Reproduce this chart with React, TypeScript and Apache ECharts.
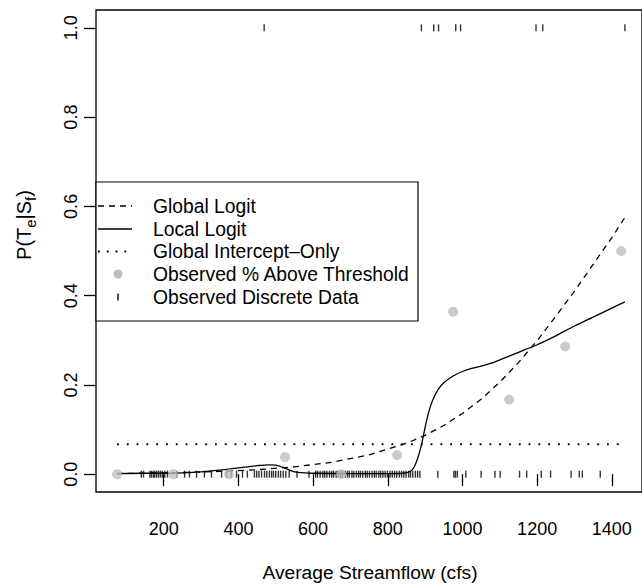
import React, { useEffect, useRef } from "react";
import * as echarts from "echarts";

// Observed share of exceedances per 150 cfs streamflow bin
const binCenters = [75, 225, 375, 525, 675, 825, 975, 1125, 1275, 1425];
const observedPct = [0, 0, 0, 0.038, 0, 0.043, 0.364, 0.167, 0.286, 0.5];

// Discrete observations: flows where the threshold was exceeded (1) or not (0)
const eventFlows = [469, 890, 923, 936, 982, 995, 1197, 1215, 1435];
const nonEventFlows = [
  140, 146, 163, 167, 172, 176, 181, 186, 191, 196, 203, 210, 235, 256, 269, 288,
  309, 328, 355, 368, 381, 395, 411, 424, 443, 449, 455, 462, 470, 476, 483, 489,
  494, 500, 507, 513, 520, 527, 536, 557, 589, 607, 612, 619, 626, 631, 637, 644,
  650, 655, 662, 668, 674, 679, 686, 692, 697, 704, 709, 716, 722, 727, 733, 740,
  745, 751, 758, 764, 769, 776, 781, 787, 793, 799, 806, 812, 818, 824, 831, 837,
  843, 849, 856, 861, 867, 874, 880, 886, 934, 977, 981, 986, 1009, 1050, 1087,
  1101, 1153, 1172, 1211, 1236, 1291, 1313, 1321, 1369,
];

// Global logit fit
const globalFlow = [75, 150, 250, 350, 450, 550, 650, 750, 850, 900, 950, 1000, 1050, 1100, 1150, 1200, 1250, 1300, 1350, 1400, 1435];
const globalP = [0.0015, 0.0022, 0.0037, 0.0061, 0.0099, 0.0163, 0.0266, 0.0431, 0.069, 0.087, 0.109, 0.136, 0.168, 0.206, 0.25, 0.299, 0.354, 0.41, 0.47, 0.53, 0.575];

// Local logit fit
const localFlow = [75, 150, 200, 250, 300, 350, 400, 450, 480, 500, 520, 540, 560, 600, 700, 800, 840, 860, 870, 880, 890, 900, 910, 920, 935, 950, 975, 1000, 1025, 1050, 1075, 1100, 1150, 1200, 1250, 1300, 1350, 1400, 1435];
const localP = [0.001, 0.002, 0.002, 0.003, 0.005, 0.009, 0.014, 0.019, 0.021, 0.02, 0.015, 0.008, 0.004, 0.002, 0.001, 0.001, 0.002, 0.006, 0.015, 0.035, 0.065, 0.105, 0.14, 0.165, 0.19, 0.205, 0.22, 0.23, 0.237, 0.242, 0.248, 0.256, 0.273, 0.29, 0.31, 0.332, 0.352, 0.372, 0.386];

// Intercept-only model
const interceptP = 0.067;
const interceptFlow = [75, 1435];

const xTicks = [200, 400, 600, 800, 1000, 1200, 1400];
const yTicks = [0, 0.2, 0.4, 0.6, 0.8, 1.0];

const legendLabels = [
  "Global Logit",
  "Local Logit",
  "Global Intercept\u2013Only",
  "Observed % Above Threshold",
  "Observed Discrete Data",
];

const FONT = "'Liberation Sans', Arial, Helvetica, sans-serif";
const GREY = "#bebebe";

export default function App() {
  const ref = useRef<HTMLDivElement>(null);

  useEffect(() => {
    if (!ref.current) return;
    const chart = echarts.init(ref.current, null, { renderer: "svg" });

    const lx = 96;
    const ly = 182;
    const rowY = [206, 229, 251.5, 274, 297];
    const symX0 = 98;
    const symX1 = 132;
    const symC = 118;
    const textX = 153;

    const legend: any[] = [
      {
        type: "rect",
        shape: { x: lx, y: ly, width: 322, height: 139 },
        style: { fill: "#fff", stroke: "#000", lineWidth: 1.2 },
        z: 10,
      },
      {
        type: "line",
        shape: { x1: symX0, y1: rowY[0], x2: symX1, y2: rowY[0] },
        style: { stroke: "#000", lineWidth: 1.3, lineDash: [6, 5] },
        z: 11,
      },
      {
        type: "line",
        shape: { x1: symX0, y1: rowY[1], x2: symX1, y2: rowY[1] },
        style: { stroke: "#000", lineWidth: 1.3 },
        z: 11,
      },
      {
        type: "line",
        shape: { x1: symX0, y1: rowY[2], x2: symX1, y2: rowY[2] },
        style: { stroke: "#000", lineWidth: 1.8, lineDash: [1.8, 7] },
        z: 11,
      },
      {
        type: "circle",
        shape: { cx: symC, cy: rowY[3], r: 4.5 },
        style: { fill: GREY },
        z: 11,
      },
      {
        type: "rect",
        shape: { x: symC - 0.7, y: rowY[4] - 3.5, width: 1.4, height: 7 },
        style: { fill: "#000" },
        z: 11,
      },
      ...legendLabels.map((t, i) => ({
        type: "text",
        x: textX,
        y: rowY[i],
        style: {
          text: t,
          font: `19.3px ${FONT}`,
          fill: "#000",
          textAlign: "left",
          textVerticalAlign: "middle",
        },
        z: 11,
      })),
    ];

    const option: any = {
      animation: false,
      backgroundColor: "#fff",
      grid: {
        left: 96,
        right: -2,
        top: 10,
        bottom: 93,
        show: true,
        borderColor: "#000",
        borderWidth: 1.3,
        backgroundColor: "transparent",
      },
      xAxis: {
        type: "value",
        min: 18.7,
        max: 1480.8,
        splitLine: { show: false },
        axisLine: { show: false },
        axisTick: {
          show: true,
          inside: false,
          length: 12,
          customValues: xTicks,
          lineStyle: { color: "#000", width: 1.3 },
        },
        axisLabel: {
          customValues: xTicks,
          color: "#000",
          fontSize: 18,
          fontFamily: FONT,
          margin: 28,
          formatter: (v: number) => String(v),
        },
      },
      yAxis: {
        type: "value",
        min: -0.04,
        max: 1.04,
        splitLine: { show: false },
        axisLine: { show: false },
        axisTick: {
          show: true,
          inside: false,
          length: 12,
          customValues: yTicks,
          lineStyle: { color: "#000", width: 1.3 },
        },
        axisLabel: {
          customValues: yTicks,
          color: "#000",
          fontSize: 18,
          fontFamily: FONT,
          rotate: 90,
          margin: 16,
          formatter: (v: number) => v.toFixed(1),
        },
      },
      graphic: [
        ...legend,
        {
          type: "text",
          x: 370,
          y: 572,
          style: {
            text: "Average Streamflow (cfs)",
            font: `19.2px ${FONT}`,
            fill: "#000",
            textAlign: "center",
            textVerticalAlign: "middle",
          },
        },
        {
          type: "text",
          x: 24,
          y: 225,
          rotation: Math.PI / 2,
          style: {
            text: "{a|P(T}{b|e}{a||S}{b|f}{a|)}",
            rich: {
              a: { fontSize: 20, fontFamily: FONT, fill: "#000" },
              b: { fontSize: 15, fontFamily: FONT, fill: "#000", padding: [13, 0, 0, 0] },
            },
            textAlign: "center",
            textVerticalAlign: "middle",
          },
        },
      ],
      series: [
        {
          type: "scatter",
          data: nonEventFlows.map((f) => [f, 0]),
          symbol: "rect",
          symbolSize: [1.4, 7],
          itemStyle: { color: "#000" },
          silent: true,
          z: 2,
        },
        {
          type: "scatter",
          data: eventFlows.map((f) => [f, 1]),
          symbol: "rect",
          symbolSize: [1.4, 7],
          itemStyle: { color: "#000" },
          silent: true,
          z: 2,
        },
        {
          type: "line",
          data: globalFlow.map((f, i) => [f, globalP[i]]),
          showSymbol: false,
          lineStyle: { color: "#000", width: 1.3, type: [6, 5] },
          silent: true,
          z: 3,
        },
        {
          type: "line",
          data: localFlow.map((f, i) => [f, localP[i]]),
          showSymbol: false,
          smooth: 0.3,
          lineStyle: { color: "#000", width: 1.3 },
          silent: true,
          z: 3,
        },
        {
          type: "line",
          data: interceptFlow.map((f) => [f, interceptP]),
          showSymbol: false,
          lineStyle: { color: "#000", width: 1.8, type: [1.8, 8] },
          silent: true,
          z: 3,
        },
        {
          type: "scatter",
          data: binCenters.map((c, i) => [c, observedPct[i]]),
          symbol: "circle",
          symbolSize: 10,
          itemStyle: { color: GREY },
          silent: true,
          z: 4,
        },
      ],
    };

    chart.setOption(option);
    return () => chart.dispose();
  }, []);

  return (
    <div
      ref={ref}
      style={{ position: "fixed", left: 0, top: 0, width: 642, height: 585, background: "#fff" }}
    />
  );
}
